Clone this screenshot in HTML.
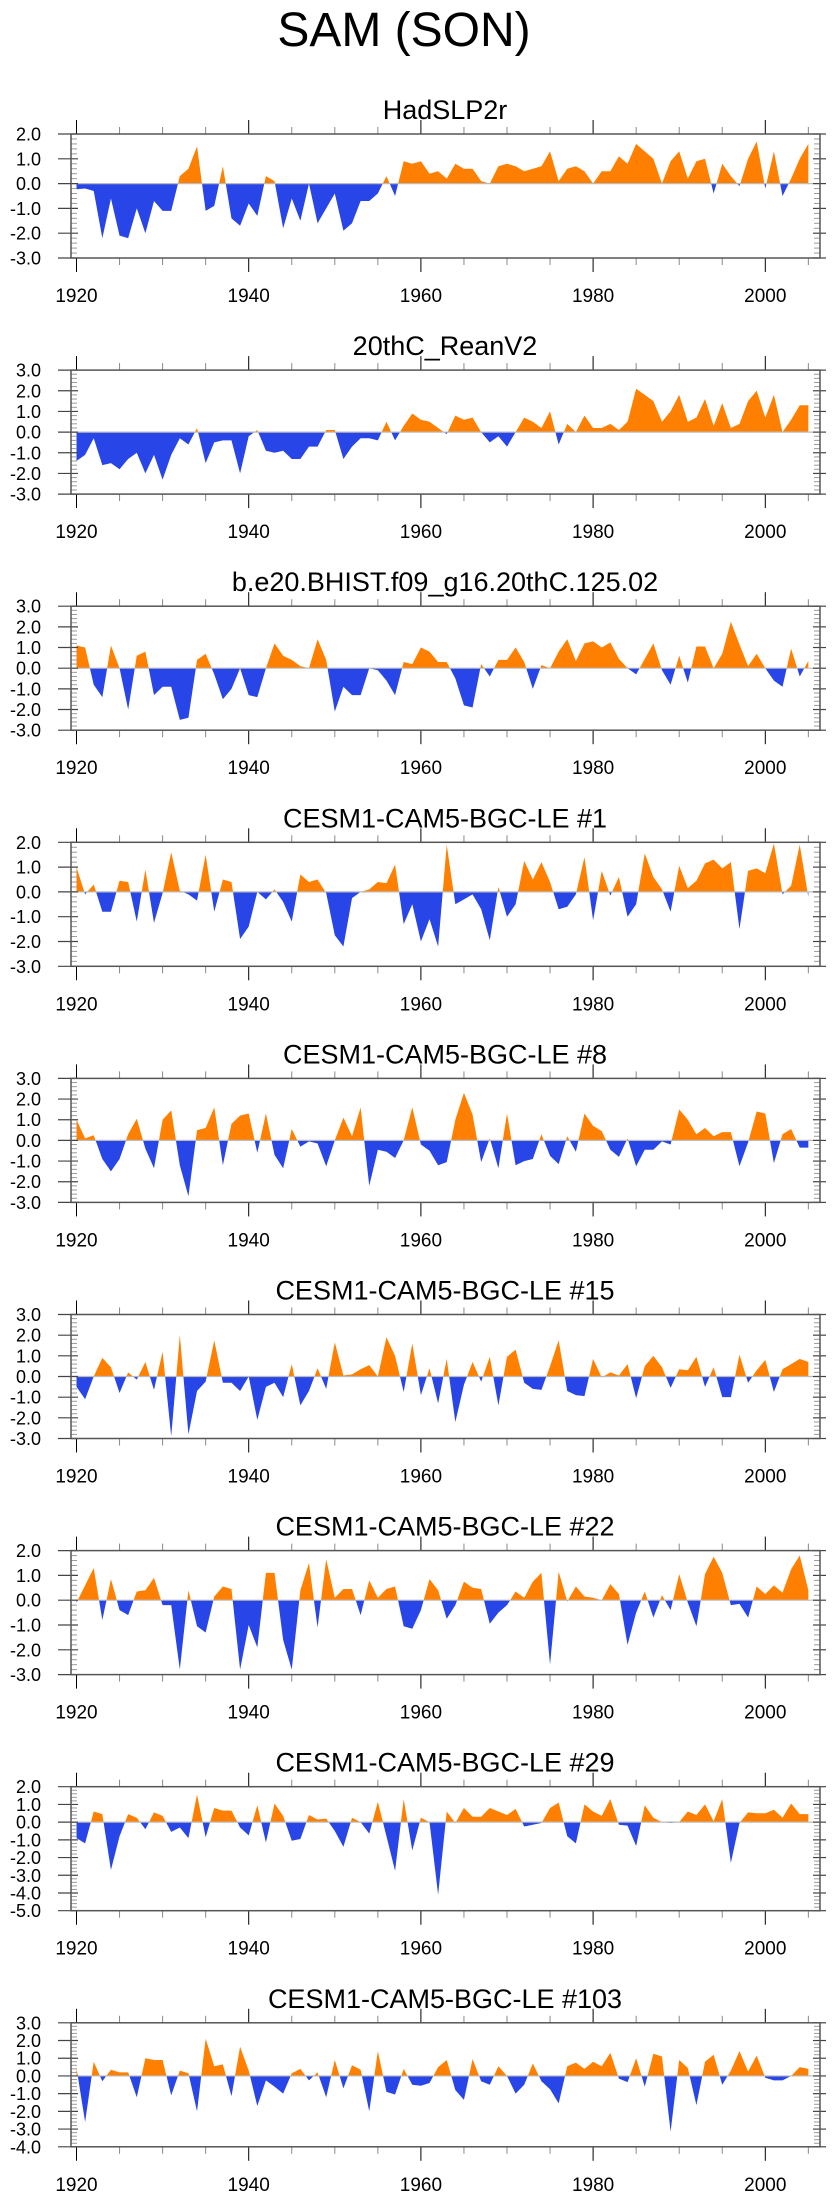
<!DOCTYPE html>
<html>
<head>
<meta charset="utf-8">
<style>
html,body{margin:0;padding:0;background:#fff;}
body{width:840px;height:2200px;overflow:hidden;}
svg{display:block;}
text{font-family:"Liberation Sans",sans-serif;fill:#000;}
</style>
</head>
<body>
<svg id="chart" width="840" height="2200" viewBox="0 0 840 2200" xmlns="http://www.w3.org/2000/svg">
<text x="404" y="46" font-size="48" text-anchor="middle">SAM (SON)</text>
</svg>
<script>
const startYear = 1920;
const panelTitles = ["HadSLP2r","20thC_ReanV2","b.e20.BHIST.f09_g16.20thC.125.02","CESM1-CAM5-BGC-LE #1","CESM1-CAM5-BGC-LE #8","CESM1-CAM5-BGC-LE #15","CESM1-CAM5-BGC-LE #22","CESM1-CAM5-BGC-LE #29","CESM1-CAM5-BGC-LE #103"];
const yMins = [-3,-3,-3,-3,-3,-3,-3,-5,-4];
const yMaxs = [2,3,3,2,3,3,2,2,3];
const xTickYears = [1920,1940,1960,1980,2000];
const samHadSLP2r = [-0.23,-0.2,-0.3,-2.2,-0.6,-2.1,-2.2,-1.0,-2.0,-0.7,-1.1,-1.1,0.3,0.6,1.5,-1.1,-0.9,0.7,-1.4,-1.7,-0.8,-1.3,0.3,0.1,-1.8,-0.6,-1.5,0.0,-1.6,-1.0,-0.4,-1.9,-1.6,-0.7,-0.7,-0.4,0.3,-0.5,0.9,0.8,0.9,0.4,0.5,0.2,0.8,0.6,0.6,0.1,0.0,0.7,0.8,0.7,0.5,0.6,0.7,1.3,0.1,0.6,0.7,0.5,0.0,0.5,0.5,1.1,0.8,1.6,1.3,1.0,0.0,0.9,1.3,0.2,0.9,1.0,-0.4,0.8,0.3,-0.1,1.0,1.7,-0.2,1.3,-0.5,0.2,1.0,1.6];
const sam20thC = [-1.4,-1.1,-0.3,-1.6,-1.5,-1.8,-1.3,-1.0,-2.0,-1.1,-2.3,-1.1,-0.3,-0.6,0.2,-1.5,-0.5,-0.4,-0.4,-2.0,-0.2,0.1,-0.9,-1.0,-0.9,-1.3,-1.3,-0.7,-0.7,0.1,0.1,-1.3,-0.7,-0.3,-0.3,-0.4,0.5,-0.4,0.3,0.9,0.6,0.5,0.2,-0.1,0.8,0.6,0.7,0.0,-0.5,-0.2,-0.7,0.0,0.7,0.5,0.2,1.0,-0.6,0.4,0.0,0.8,0.2,0.2,0.4,0.1,0.5,2.1,1.8,1.5,0.5,1.0,1.8,0.5,0.7,1.6,0.3,1.4,0.2,0.4,1.5,2.0,0.7,1.8,0.0,0.6,1.3,1.3];
const samBHIST = [1.1,1.0,-0.8,-1.4,1.1,0.0,-2.0,0.6,0.8,-1.3,-0.9,-0.9,-2.5,-2.4,0.4,0.7,-0.3,-1.5,-1.0,0.0,-1.3,-1.4,0.0,1.2,0.6,0.4,0.1,0.0,1.4,0.4,-2.1,-0.9,-1.3,-1.3,0.0,-0.1,-0.6,-1.3,0.3,0.2,1.0,0.8,0.3,0.3,-0.5,-1.8,-1.9,0.2,-0.4,0.4,0.4,1.0,0.3,-1.0,0.15,0.0,0.8,1.4,0.35,1.2,1.3,1.0,1.25,0.45,0.0,-0.3,0.45,1.2,-0.1,-0.8,0.6,-0.7,1.05,1.05,0.0,0.7,2.25,1.15,0.1,0.7,0.0,-0.6,-0.9,0.95,-0.4,0.35];
const samLE1 = [1.0,-0.1,0.3,-0.8,-0.8,0.45,0.4,-1.2,0.9,-1.25,-0.05,1.6,0.05,-0.1,-0.35,1.5,-0.8,0.5,0.4,-1.9,-1.4,0.0,-0.3,0.1,-0.4,-1.2,0.7,0.4,0.5,-0.05,-1.75,-2.2,-0.25,0.0,0.1,0.4,0.35,1.1,-1.3,-0.5,-2.0,-1.1,-2.2,1.9,-0.5,-0.3,-0.1,-0.7,-1.95,0.2,-1.0,-0.5,1.25,0.5,1.2,0.4,-0.7,-0.6,-0.1,1.4,-1.15,0.85,-0.15,0.6,-1.0,-0.5,1.55,0.6,0.1,-0.8,1.05,0.15,0.45,1.15,1.3,0.95,1.2,-1.5,0.85,0.95,0.75,1.95,-0.1,0.25,1.9,-0.2];
const samLE8 = [1.0,0.1,0.25,-0.9,-1.5,-0.9,0.3,1.05,-0.4,-1.35,1.0,1.45,-1.2,-2.7,0.5,0.6,1.6,-1.2,0.8,1.2,1.3,-0.6,1.3,-0.7,-1.35,0.55,-0.3,-0.05,-0.15,-1.25,0.0,1.1,0.2,1.6,-2.2,-0.45,-0.55,-0.85,0.0,1.6,-0.2,-0.5,-1.2,-1.05,1.0,2.3,1.25,-1.05,0.1,-1.35,1.3,-1.2,-1.0,-0.9,0.3,-0.75,-1.15,0.2,-0.55,1.3,0.7,0.45,-0.45,-0.8,0.1,-1.25,-0.45,-0.45,-0.05,-0.2,1.5,1.0,0.3,0.6,0.2,0.4,0.4,-1.25,-0.1,1.4,1.3,-1.1,0.3,0.55,-0.35,-0.35];
const samLE15 = [-0.5,-1.1,0.0,0.9,0.45,-0.8,0.2,-0.15,0.7,-0.65,1.2,-2.9,2.0,-2.8,-0.7,-0.25,1.75,-0.3,-0.3,-0.7,0.0,-2.1,-0.5,-0.3,-1.0,0.6,-1.4,-0.7,0.4,-0.6,1.65,0.05,0.1,0.35,0.55,0.0,1.9,1.0,-0.75,1.6,-0.9,0.4,-1.3,0.85,-2.2,-0.4,0.7,-0.25,0.95,-1.4,0.95,1.3,-0.3,-0.6,-0.65,0.5,1.75,-0.7,-0.9,-0.95,0.85,-0.05,0.2,0.05,0.6,-1.05,0.5,1.0,0.45,-0.55,0.35,0.3,0.95,-0.5,0.45,-1.0,-1.0,1.05,-0.3,0.3,0.8,-0.75,0.35,0.6,0.85,0.7];
const samLE22 = [-0.1,0.6,1.3,-0.8,0.85,-0.4,-0.6,0.35,0.4,0.9,-0.2,-0.2,-2.8,0.4,-1.05,-1.3,0.15,0.55,0.45,-2.8,-1.0,-1.9,1.1,1.1,-1.6,-2.8,0.4,1.5,-1.1,1.65,0.1,0.45,0.45,-0.6,0.8,0.1,0.45,0.55,-1.05,-1.15,-0.4,0.85,0.4,-0.75,-0.2,0.75,0.5,0.45,-0.95,-0.5,-0.2,0.35,0.1,0.75,1.1,-2.6,1.15,-0.05,0.55,0.15,0.1,0.0,0.65,0.25,-1.8,-0.5,0.35,-0.7,0.2,-0.4,1.05,-0.1,-1.05,1.05,1.75,1.1,-0.2,-0.15,-0.7,0.55,0.25,0.6,0.3,1.25,1.8,0.4];
const samLE29 = [-0.9,-1.2,0.6,0.45,-2.7,-0.8,0.45,0.25,-0.4,0.55,0.35,-0.55,-0.3,-0.9,1.55,-0.85,0.8,0.65,0.65,-0.3,-0.75,0.95,-1.15,1.05,0.35,-1.05,-0.95,0.4,0.15,0.2,-0.5,-1.4,0.25,0.0,-0.65,1.15,-0.8,-2.75,1.3,-1.6,0.25,0.0,-4.1,0.6,-0.05,0.8,0.3,0.3,0.8,0.6,0.4,0.75,-0.25,-0.15,-0.05,0.8,1.1,-0.8,-1.2,1.0,0.6,0.35,1.3,-0.15,-0.2,-1.35,0.95,0.25,0.0,-0.05,0.0,0.6,0.4,1.0,0.05,1.3,-2.3,-0.05,0.55,0.5,0.5,0.7,0.25,1.05,0.45,0.45];
const samLE103 = [0.45,-2.6,0.8,-0.3,0.35,0.2,0.2,-1.2,1.0,0.9,0.9,-1.1,0.3,0.15,-2.0,2.1,0.55,0.65,-1.15,1.65,0.3,-1.7,-0.25,-0.6,-1.0,0.15,0.4,-0.25,0.2,-1.2,0.9,-0.7,0.6,0.35,-2.0,1.4,-0.9,-1.05,0.4,-0.5,-0.55,-0.4,0.5,0.9,-0.8,-1.35,0.95,-0.3,-0.5,0.55,0.0,-1.0,-0.5,0.7,-0.3,-0.75,-1.55,0.55,0.75,0.4,0.8,0.55,1.3,-0.15,-0.35,1.0,-0.6,1.25,1.1,-3.15,0.9,0.45,-1.65,0.8,1.2,-0.5,0.3,1.4,0.25,1.15,-0.1,-0.25,-0.25,0.0,0.5,0.4];
const seriesList = [samHadSLP2r,sam20thC,samBHIST,samLE1,samLE8,samLE15,samLE22,samLE29,samLE103];

const NS = "http://www.w3.org/2000/svg";
const svg = document.getElementById("chart");
const BOX_L = 71, BOX_R = 820, BOX_H = 124, TOP0 = 134, STEP = 236.1;
function xScale(year){ return 76.5 + (year - 1920) * 8.61; }
function mk(tag, attrs, parent){
  const e = document.createElementNS(NS, tag);
  for (const k in attrs) e.setAttribute(k, attrs[k]);
  (parent || svg).appendChild(e);
  return e;
}

seriesList.forEach(function(vals, p){
  const top = TOP0 + p * STEP;
  const bot = top + BOX_H;
  const ymin = yMins[p], ymax = yMaxs[p];
  const yScale = function(v){ return bot - (v - ymin) / (ymax - ymin) * BOX_H; };
  const g = mk("g", {});
  
  

  const title = mk("text", {x: 445, y: top - 15, "font-size": 27, "text-anchor": "middle"}, g);
  title.textContent = panelTitles[p];
  
  

  // fills
  const y0 = yScale(0);
  let d = "M" + xScale(startYear).toFixed(2) + "," + y0.toFixed(2);
  vals.forEach(function(v, i){ d += " L" + xScale(startYear + i).toFixed(2) + "," + yScale(v).toFixed(2); });
  d += " L" + xScale(startYear + vals.length - 1).toFixed(2) + "," + y0.toFixed(2) + " Z";
  const cpA = mk("clipPath", {id: "ca" + p}, g);
  mk("rect", {x: BOX_L, y: top, width: BOX_R - BOX_L, height: y0 - top}, cpA);
  const cpB = mk("clipPath", {id: "cb" + p}, g);
  mk("rect", {x: BOX_L, y: y0, width: BOX_R - BOX_L, height: bot - y0}, cpB);
  const pos = mk("path", {d: d, fill: "#ff8000", "clip-path": "url(#ca" + p + ")"}, g);
  
  
  const neg = mk("path", {d: d, fill: "#2845e8", "clip-path": "url(#cb" + p + ")"}, g);
  
  
  const zl = mk("line", {x1: BOX_L, x2: BOX_R, y1: y0, y2: y0, stroke: "#bbbbbb", "stroke-width": 1.2}, g);
  
  

  // y ticks
  for (let k = Math.round(ymin * 5); k <= Math.round(ymax * 5); k++) {
    const v = k / 5, yy = yScale(v);
    if (k % 5 === 0) {
      mk("line", {x1: BOX_L - 13, x2: BOX_L + 7, y1: yy, y2: yy, stroke: "#444", "stroke-width": 1.2}, g);
      mk("line", {x1: BOX_R - 7, x2: BOX_R + 6, y1: yy, y2: yy, stroke: "#444", "stroke-width": 1.2}, g);
      const lab = mk("text", {x: 41, y: yy + 6.5, "font-size": 18, "text-anchor": "end"}, g);
      lab.textContent = v.toFixed(1);
      
      
    } else {
      mk("line", {x1: BOX_L, x2: BOX_L + 6, y1: yy, y2: yy, stroke: "#999", "stroke-width": 1}, g);
      mk("line", {x1: BOX_R - 6, x2: BOX_R, y1: yy, y2: yy, stroke: "#999", "stroke-width": 1}, g);
    }
  }
  // x ticks
  for (let yr = 1920; yr <= 2005; yr += 5) {
    const xx = xScale(yr);
    const major = (yr % 20 === 0);
    const len = major ? 14 : 7;
    const col = major ? "#000" : "#888";
    mk("line", {x1: xx, x2: xx, y1: top - len, y2: top, stroke: col, "stroke-width": 1}, g);
    mk("line", {x1: xx, x2: xx, y1: bot, y2: bot + len, stroke: col, "stroke-width": 1}, g);
  }
  xTickYears.forEach(function(yr){
    const t = mk("text", {x: xScale(yr), y: bot + 44, "font-size": 19, "text-anchor": "middle"}, g);
    t.textContent = yr;
    
    
  });
  const frame = mk("rect", {x: BOX_L, y: top, width: BOX_R - BOX_L, height: BOX_H, fill: "none", stroke: "#555", "stroke-width": 1.5}, g);
  
  
});
</script>
</body>
</html>
